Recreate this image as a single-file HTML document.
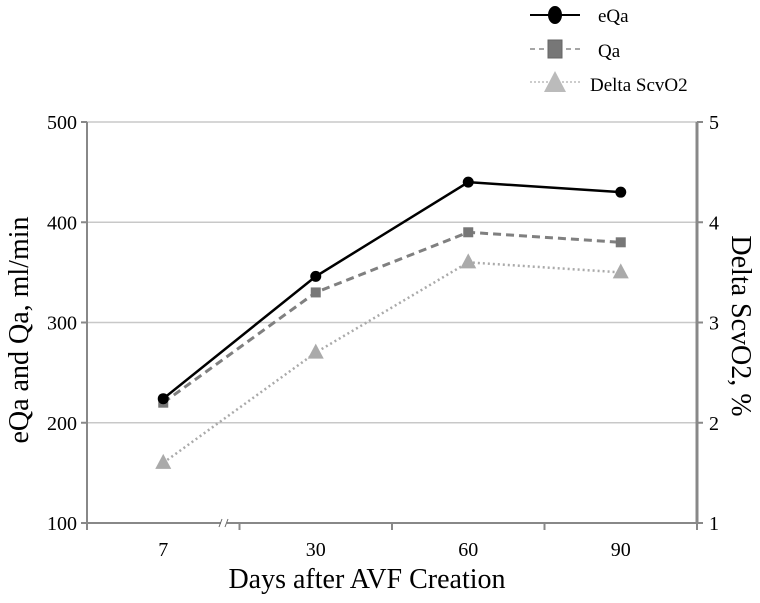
<!DOCTYPE html>
<html><head><meta charset="utf-8"><style>
html,body{margin:0;padding:0;background:#fff;}
svg text{font-family:"Liberation Serif",serif;}
</style></head><body>
<svg id="chart" width="760" height="598" xmlns="http://www.w3.org/2000/svg">
<g id="grid"></g><g id="axes"></g><g id="series"></g>
<g>
 <g>
  <line x1="530" y1="15" x2="580" y2="15" stroke="#000" stroke-width="2"/>
  <ellipse cx="555" cy="15" rx="7" ry="9" fill="#000"/>
  <text x="598" y="22" font-size="19">eQa</text></g>
 <g>
  <line x1="530" y1="49" x2="580" y2="49" stroke="#888" stroke-width="1.5" stroke-dasharray="5,4"/>
  <rect x="548" y="40" width="14" height="18" fill="#777" stroke="#666"/>
  <text x="598" y="57" font-size="19">Qa</text></g>
 <g>
  <line x1="530" y1="82" x2="580" y2="82" stroke="#bbb" stroke-width="1.5" stroke-dasharray="2,2"/>
  <polygon points="555,71 566,92 544,92" fill="#bbb"/>
  <text x="590" y="91" font-size="19">Delta ScvO2</text></g>
</g>
<text transform="translate(28,330) rotate(-90)" text-anchor="middle" font-size="28">eQa and Qa, ml/min</text>
<text transform="translate(732,326) rotate(90)" text-anchor="middle" font-size="28">Delta ScvO2, %</text>
<text x="367" y="588" text-anchor="middle" font-size="28">Days after AVF Creation</text>
</svg>
<script>
const categories = ["7","30","60","90"];
const eQa = [224, 346, 440, 430];
const qa = [220, 330, 390, 380];
const delta = [1.6, 2.7, 3.6, 3.5];
const leftTicks = [100,200,300,400,500];
const rightTicks = [1,2,3,4,5];
const NS="http://www.w3.org/2000/svg";
const L=87,R=697,T=122,B=523;
const yL=v=>B-(v-100)/400*(B-T);
const yR=v=>B-(v-1)/4*(B-T);
const slot=(R-L)/categories.length;
const x=i=>L+slot*(i+0.5);
function mk(tag,attrs,parent){const e=document.createElementNS(NS,tag);for(const k in attrs)e.setAttribute(k,attrs[k]);parent.appendChild(e);return e;}
const grid=document.getElementById('grid'),axes=document.getElementById('axes'),ser=document.getElementById('series');
leftTicks.forEach((v,i)=>{
 const g=mk('line',{x1:L,x2:R,y1:yL(v),y2:yL(v),stroke:'#c8c8c8','stroke-width':1.5},grid);
 
 
 mk('line',{x1:L-6,x2:L,y1:yL(v),y2:yL(v),stroke:'#888','stroke-width':2},axes);
 const t=mk('text',{x:L-10,y:yL(v)+7,'text-anchor':'end','font-size':20},axes);t.textContent=v;
 
 
});
rightTicks.forEach(v=>{
 mk('line',{x1:R,x2:R+6,y1:yR(v),y2:yR(v),stroke:'#888','stroke-width':2},axes);
 const t=mk('text',{x:R+12,y:yR(v)+7,'font-size':20},axes);t.textContent=v;
 
 
});
mk('line',{x1:L,x2:L,y1:T,y2:B,stroke:'#888','stroke-width':2},axes);
mk('line',{x1:R,x2:R,y1:T,y2:B,stroke:'#888','stroke-width':3},axes);
mk('line',{x1:L,x2:R,y1:B,y2:B,stroke:'#888','stroke-width':2},axes);
for(let i=0;i<=categories.length;i++)mk('line',{x1:L+slot*i,x2:L+slot*i,y1:B,y2:B+7,stroke:'#888','stroke-width':2},axes);
mk('rect',{x:221,y:B-5,width:6,height:10,fill:'#fff'},axes);
mk('line',{x1:219,y1:B+4,x2:222,y2:B-4,stroke:'#666','stroke-width':1},axes);
mk('line',{x1:225,y1:B+4,x2:228,y2:B-4,stroke:'#666','stroke-width':1},axes);
categories.forEach((c,i)=>{const t=mk('text',{x:x(i),y:556,'text-anchor':'middle','font-size':20},axes);t.textContent=c;
 
 });
function line(vals,fy,attrs,name){const p=mk('polyline',Object.assign({points:vals.map((v,i)=>x(i)+','+fy(v)).join(' '),fill:'none'},attrs),ser);
 
 }
line(delta,yR,{stroke:'#aaa','stroke-width':2.5,'stroke-dasharray':'2,3'},'delta-scvo2-line');
line(qa,yL,{stroke:'#808080','stroke-width':3,'stroke-dasharray':'8,5'},'qa-line');
line(eQa,yL,{stroke:'#000','stroke-width':2.5},'eqa-line');
delta.forEach((v,i)=>{const p=mk('polygon',{points:`${x(i)},${yR(v)-9} ${x(i)+8},${yR(v)+6} ${x(i)-8},${yR(v)+6}`,fill:'#aaa'},ser);
 
 });
qa.forEach((v,i)=>{const r=mk('rect',{x:x(i)-5,y:yL(v)-5,width:10,height:10,fill:'#777'},ser);
 
 });
eQa.forEach((v,i)=>{const c=mk('circle',{cx:x(i),cy:yL(v),r:5.5,fill:'#000'},ser);
 
 });
</script>
</body></html>
